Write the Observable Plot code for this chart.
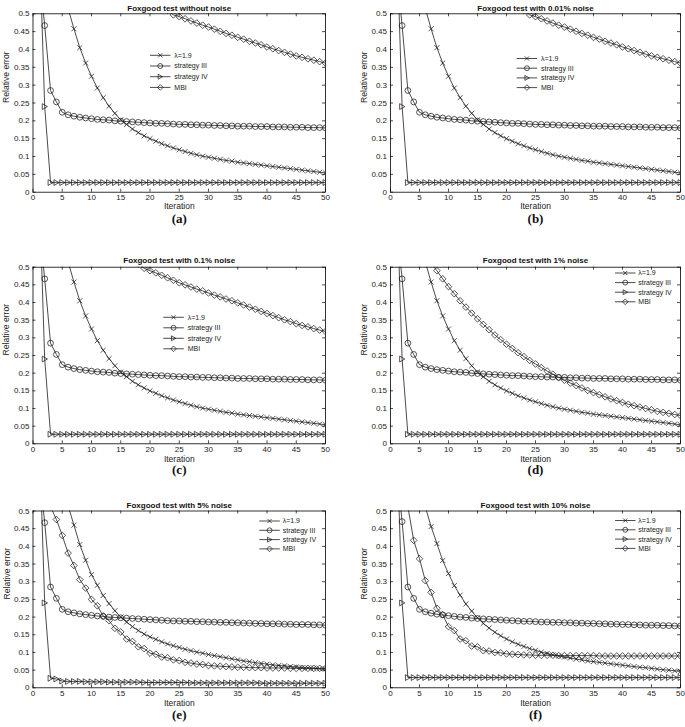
<!DOCTYPE html>
<html>
<head>
<meta charset="utf-8">
<script src="https://cdn.jsdelivr.net/npm/d3@7"></script>
<script src="https://cdn.jsdelivr.net/npm/@observablehq/plot@0.6"></script>
<style>
  body { margin: 0; background: #fff; }
  #root { position: relative; width: 685px; height: 727px; overflow: hidden; background: #fff;
          font-family: "Liberation Sans", Arial, sans-serif; }
  .panel { position: absolute; }
  #legends { position: absolute; left: 0; top: 0; pointer-events: none; }
</style>
</head>
<body>
<div id="root"></div>
<script>
// ---------------- labels & ticks ----------------
const seriesNames = ["λ=1.9", "strategy III", "strategy IV", "MBI"];
const panelTitles = [
  "Foxgood test without noise", "Foxgood test with 0.01% noise",
  "Foxgood test with 0.1% noise", "Foxgood test with 1% noise",
  "Foxgood test with 5% noise", "Foxgood test with 10% noise"
];
const panelTags = ["(a)", "(b)", "(c)", "(d)", "(e)", "(f)"];
const xLabel = "Iteration";
const yLabel = "Relative error";
const xTicks = [0, 5, 10, 15, 20, 25, 30, 35, 40, 45, 50];
const yTicks = [0, 0.05, 0.1, 0.15, 0.2, 0.25, 0.3, 0.35, 0.4, 0.45, 0.5];

// ---------------- data (relative error per iteration) ----------------
// λ=1.9, iterations 1..50
const lambda_abcd = [1.0, 0.86, 0.75, 0.66, 0.58, 0.515, 0.458, 0.405, 0.362, 0.325,
  0.292, 0.265, 0.241, 0.221, 0.203, 0.19, 0.177, 0.167, 0.158, 0.15,
  0.143, 0.136, 0.13, 0.124, 0.119, 0.114, 0.109, 0.105, 0.101, 0.098,
  0.095, 0.092, 0.089, 0.087, 0.084, 0.082, 0.08, 0.078, 0.076, 0.074,
  0.072, 0.07, 0.068, 0.066, 0.064, 0.062, 0.06, 0.058, 0.056, 0.054];
const lambda_e = [1.0, 0.86, 0.75, 0.66, 0.58, 0.515, 0.46, 0.405, 0.361, 0.32,
  0.29, 0.261, 0.238, 0.218, 0.2, 0.186, 0.173, 0.162, 0.152, 0.144,
  0.137, 0.13, 0.124, 0.119, 0.114, 0.109, 0.105, 0.101, 0.098, 0.094,
  0.091, 0.088, 0.085, 0.082, 0.079, 0.076, 0.074, 0.071, 0.069, 0.067,
  0.065, 0.063, 0.062, 0.06, 0.059, 0.057, 0.056, 0.055, 0.054, 0.053];
const lambda_f = [1.0, 0.86, 0.75, 0.66, 0.58, 0.512, 0.456, 0.408, 0.36, 0.323,
  0.289, 0.262, 0.237, 0.217, 0.198, 0.182, 0.169, 0.157, 0.147, 0.138,
  0.13, 0.123, 0.117, 0.111, 0.106, 0.101, 0.097, 0.093, 0.09, 0.087,
  0.084, 0.081, 0.079, 0.076, 0.074, 0.072, 0.07, 0.068, 0.066, 0.064,
  0.062, 0.06, 0.058, 0.057, 0.055, 0.053, 0.051, 0.05, 0.048, 0.046];

// strategy III, iterations 1..50
const s3_abcd = [0.63, 0.467, 0.285, 0.253, 0.224, 0.217, 0.213, 0.21, 0.208, 0.206,
  0.204, 0.203, 0.202, 0.2, 0.199, 0.198, 0.197, 0.196, 0.195, 0.194,
  0.193, 0.193, 0.192, 0.191, 0.19, 0.19, 0.189, 0.189, 0.188, 0.188,
  0.187, 0.187, 0.186, 0.186, 0.185, 0.185, 0.185, 0.184, 0.184, 0.184,
  0.183, 0.183, 0.183, 0.182, 0.182, 0.182, 0.181, 0.181, 0.181, 0.18];
const s3_e = [0.63, 0.467, 0.285, 0.253, 0.222, 0.215, 0.212, 0.209, 0.207, 0.205,
  0.203, 0.202, 0.2, 0.199, 0.198, 0.197, 0.196, 0.195, 0.194, 0.193,
  0.192, 0.191, 0.19, 0.189, 0.189, 0.188, 0.188, 0.187, 0.187, 0.186,
  0.186, 0.185, 0.185, 0.184, 0.184, 0.183, 0.183, 0.182, 0.182, 0.181,
  0.181, 0.181, 0.18, 0.18, 0.179, 0.179, 0.179, 0.178, 0.178, 0.177];
const s3_f = [0.63, 0.47, 0.285, 0.253, 0.222, 0.215, 0.211, 0.208, 0.206, 0.204,
  0.202, 0.2, 0.199, 0.197, 0.196, 0.195, 0.194, 0.193, 0.192, 0.191,
  0.19, 0.189, 0.188, 0.188, 0.187, 0.186, 0.186, 0.185, 0.185, 0.184,
  0.184, 0.183, 0.183, 0.182, 0.182, 0.181, 0.181, 0.18, 0.18, 0.179,
  0.179, 0.178, 0.178, 0.177, 0.177, 0.177, 0.176, 0.176, 0.175, 0.175];

// strategy IV, iterations 1..50
const s4_abcd = [0.75, 0.24, 0.027, 0.027, 0.027, 0.027, 0.027, 0.027, 0.027, 0.027,
  0.027, 0.027, 0.027, 0.027, 0.027, 0.027, 0.027, 0.027, 0.027, 0.027,
  0.027, 0.027, 0.027, 0.027, 0.027, 0.027, 0.027, 0.027, 0.027, 0.027,
  0.027, 0.027, 0.027, 0.027, 0.027, 0.027, 0.027, 0.027, 0.027, 0.027,
  0.027, 0.027, 0.027, 0.027, 0.027, 0.027, 0.027, 0.027, 0.027, 0.027];
const s4_e = [0.75, 0.24, 0.027, 0.025, 0.019, 0.018, 0.018, 0.018, 0.017, 0.017,
  0.017, 0.017, 0.016, 0.016, 0.016, 0.016, 0.016, 0.016, 0.015, 0.015,
  0.015, 0.015, 0.015, 0.015, 0.015, 0.015, 0.014, 0.014, 0.014, 0.014,
  0.014, 0.014, 0.014, 0.014, 0.014, 0.014, 0.014, 0.014, 0.013, 0.013,
  0.013, 0.013, 0.013, 0.013, 0.013, 0.013, 0.013, 0.013, 0.013, 0.013];
const s4_f = [0.75, 0.24, 0.029, 0.029, 0.029, 0.029, 0.029, 0.029, 0.029, 0.029,
  0.029, 0.029, 0.029, 0.029, 0.029, 0.029, 0.029, 0.029, 0.029, 0.029,
  0.029, 0.029, 0.029, 0.029, 0.029, 0.029, 0.029, 0.029, 0.029, 0.029,
  0.029, 0.029, 0.029, 0.029, 0.029, 0.029, 0.029, 0.029, 0.029, 0.029,
  0.029, 0.029, 0.029, 0.029, 0.029, 0.029, 0.029, 0.029, 0.029, 0.029];

// MBI (first iteration given separately; earlier iterations lie above the axis)
const mbi_ab_first = 23;
const mbi_ab = [0.51, 0.497, 0.492, 0.486, 0.48, 0.474, 0.468, 0.463, 0.457, 0.451,
  0.445, 0.44, 0.434, 0.429, 0.423, 0.418, 0.413, 0.407, 0.402, 0.397,
  0.392, 0.387, 0.382, 0.378, 0.374, 0.37, 0.366, 0.362];
const mbi_c_first = 18;
const mbi_c = [0.51, 0.497, 0.49, 0.484, 0.477, 0.47, 0.463, 0.456, 0.45, 0.444,
  0.438, 0.433, 0.427, 0.421, 0.416, 0.41, 0.405, 0.399, 0.393, 0.387,
  0.381, 0.375, 0.369, 0.363, 0.357, 0.351, 0.346, 0.34, 0.335, 0.331,
  0.326, 0.322, 0.318];
const mbi_d_first = 7;
const mbi_d = [0.512, 0.49, 0.467, 0.445, 0.425, 0.405, 0.387, 0.37, 0.354, 0.338,
  0.323, 0.308, 0.295, 0.282, 0.27, 0.258, 0.247, 0.236, 0.226, 0.216,
  0.206, 0.197, 0.188, 0.18, 0.172, 0.165, 0.158, 0.151, 0.145, 0.139,
  0.133, 0.127, 0.122, 0.117, 0.112, 0.108, 0.104, 0.1, 0.096, 0.092,
  0.089, 0.086, 0.083, 0.08];
const mbi_e_first = 3;
const mbi_e = [0.512, 0.476, 0.431, 0.381, 0.346, 0.306, 0.282, 0.25, 0.232, 0.203,
  0.19, 0.168, 0.158, 0.138, 0.131, 0.116, 0.111, 0.098, 0.095, 0.087,
  0.085, 0.079, 0.077, 0.072, 0.07, 0.067, 0.066, 0.063, 0.062, 0.061,
  0.06, 0.059, 0.058, 0.058, 0.057, 0.057, 0.057, 0.056, 0.056, 0.056,
  0.056, 0.055, 0.055, 0.055, 0.055, 0.055, 0.055, 0.055];
const mbi_f_first = 3;
const mbi_f = [0.512, 0.417, 0.365, 0.303, 0.27, 0.225, 0.207, 0.173, 0.162, 0.138,
  0.133, 0.118, 0.116, 0.105, 0.104, 0.1, 0.099, 0.096, 0.095, 0.094,
  0.093, 0.093, 0.092, 0.092, 0.092, 0.092, 0.091, 0.091, 0.091, 0.091,
  0.091, 0.091, 0.091, 0.09, 0.09, 0.09, 0.09, 0.09, 0.09, 0.09,
  0.09, 0.09, 0.09, 0.09, 0.09, 0.09, 0.09, 0.09];

// series per panel: [values, first iteration] in legend order
const panelSeries = [
  [[lambda_abcd, 1], [s3_abcd, 1], [s4_abcd, 1], [mbi_ab, mbi_ab_first]],
  [[lambda_abcd, 1], [s3_abcd, 1], [s4_abcd, 1], [mbi_ab, mbi_ab_first]],
  [[lambda_abcd, 1], [s3_abcd, 1], [s4_abcd, 1], [mbi_c, mbi_c_first]],
  [[lambda_abcd, 1], [s3_abcd, 1], [s4_abcd, 1], [mbi_d, mbi_d_first]],
  [[lambda_e, 1], [s3_e, 1], [s4_e, 1], [mbi_e, mbi_e_first]],
  [[lambda_f, 1], [s3_f, 1], [s4_f, 1], [mbi_f, mbi_f_first]]
];

// ---------------- styling / layout ----------------
const INK = "#1e1e1e";
const triRight = {
  draw(ctx, size) {
    const r = Math.sqrt(size / Math.PI);
    ctx.moveTo(r * 0.95, 0);
    ctx.lineTo(-r * 0.85, -r);
    ctx.lineTo(-r * 0.85, r);
    ctx.closePath();
  }
};
const symbols = [d3.symbolTimes, d3.symbolCircle, triRight, d3.symbolDiamond2];
const radii = [2.4, 2.9, 2.9, 3.0];

const cols = [
  {left: 0, w: 345, mL: 32.5, mR: 20},
  {left: 345, w: 340, mL: 45, mR: 5}
];
const rowsL = [
  {top: 0, h: 240, mT: 13.3, mB: 48.3, titleDy: -8.6, xPad: 2.2, xlabDy: 17.2, tagDy: 30.5},
  {top: 240, h: 240, mT: 26.7, mB: 36.7, titleDy: -9.4, xPad: 2.6, xlabDy: 17.8, tagDy: 30.3},
  {top: 480, h: 247, mT: 30.5, mB: 39.7, titleDy: -8.8, xPad: 3.0, xlabDy: 18, tagDy: 31.2}
];
const ylabDx = [-26.5, -26, -26.3, -26.5, -25.5, -26.5];
// legend layout: line start x, text x, first row y, row spacing (page coords)
const legendLayout = [
  {lx: 150, tx: 174.3, y0: 55.3, dy: 10.7},
  {lx: 516.7, tx: 541, y0: 58.5, dy: 9.7},
  {lx: 163.3, tx: 187.7, y0: 317.3, dy: 10.5},
  {lx: 615, tx: 638.3, y0: 273, dy: 9.6},
  {lx: 259.3, tx: 282.7, y0: 521, dy: 9.3},
  {lx: 615, tx: 638.3, y0: 520.5, dy: 9.3}
];

const fmtY = d => d === 0 ? "0" : String(+d.toFixed(2));

const root = document.getElementById("root");

for (let p = 0; p < 6; p++) {
  const c = cols[p % 2], r = rowsL[Math.floor(p / 2)];
  const fw = c.w - c.mL - c.mR, fh = r.h - r.mT - r.mB;
  const marks = [];
  panelSeries[p].forEach(([vals, first], k) => {
    const d = vals.map((v, i) => ({x: first + i, y: v}));
    marks.push(Plot.line(d, {x: "x", y: "y", stroke: INK, strokeWidth: 0.8, clip: true}));
    marks.push(Plot.dot(d, {x: "x", y: "y", symbol: symbols[k], r: radii[k], stroke: INK,
      strokeWidth: 0.75, fill: "none", clip: true}));
  });
  marks.push(
    Plot.frame({stroke: "#000", strokeWidth: 0.8}),
    Plot.tickY(yTicks, {insetRight: fw - 3, stroke: "#000", strokeWidth: 0.7}),
    Plot.tickY(yTicks, {insetLeft: fw - 3, stroke: "#000", strokeWidth: 0.7}),
    Plot.tickX(xTicks, {insetTop: fh - 3, stroke: "#000", strokeWidth: 0.7}),
    Plot.tickX(xTicks, {insetBottom: fh - 3, stroke: "#000", strokeWidth: 0.7}),
    Plot.axisY(yTicks, {tickSize: 0, tickPadding: 3.5, tickFormat: fmtY, label: null, fontSize: 8, fill: "#222"}),
    Plot.axisX(xTicks, {tickSize: 0, tickPadding: r.xPad, tickFormat: d => String(d), label: null, fontSize: 8, fill: "#222"}),
    Plot.text([panelTitles[p]], {text: d => d, frameAnchor: "top", dy: r.titleDy, fontWeight: "bold", fontSize: 8, fill: "#111"}),
    Plot.text([xLabel], {text: d => d, frameAnchor: "bottom", dy: r.xlabDy, fontSize: 8.5, fill: "#222"}),
    Plot.text([yLabel], {text: d => d, frameAnchor: "left", dx: ylabDx[p], rotate: -90, fontSize: 8.6, fill: "#222"}),
    Plot.text([panelTags[p]], {text: d => d, frameAnchor: "bottom", dy: r.tagDy, fontSize: 13, fontWeight: "bold",
      fontFamily: "Liberation Serif, Times New Roman, serif", fill: "#111"})
  );
  const chart = Plot.plot({
    width: c.w, height: r.h,
    marginLeft: c.mL, marginRight: c.mR, marginTop: r.mT, marginBottom: r.mB,
    x: {domain: [0, 50], axis: null},
    y: {domain: [0, 0.5], axis: null},
    style: {fontFamily: "Liberation Sans, Arial, sans-serif", fontSize: "8px", background: "transparent", overflow: "visible"},
    marks
  });
  const div = document.createElement("div");
  div.className = "panel";
  div.style.left = c.left + "px";
  div.style.top = r.top + "px";
  div.style.width = c.w + "px";
  div.style.height = r.h + "px";
  div.appendChild(chart);
  root.appendChild(div);
}

// ---------------- legends ----------------
const lsvg = d3.create("svg").attr("id", "legends").attr("width", 685).attr("height", 727);
legendLayout.forEach(L => {
  seriesNames.forEach((name, k) => {
    const y = L.y0 + k * L.dy;
    const g = lsvg.append("g");
    g.append("line").attr("x1", L.lx).attr("x2", L.lx + 20.5).attr("y1", y).attr("y2", y)
      .attr("stroke", INK).attr("stroke-width", 0.8);
    g.append("path").attr("d", d3.symbol(symbols[k], Math.PI * (radii[k] * 0.85) ** 2)())
      .attr("transform", `translate(${L.lx + 10.25},${y})`)
      .attr("fill", "none").attr("stroke", INK).attr("stroke-width", 0.75);
    g.append("text").attr("x", L.tx).attr("y", y).attr("dy", "0.35em")
      .attr("font-family", "Liberation Sans, Arial, sans-serif").attr("font-size", 7)
      .attr("fill", "#222").text(name);
  });
});
root.appendChild(lsvg.node());
</script>
</body>
</html>
